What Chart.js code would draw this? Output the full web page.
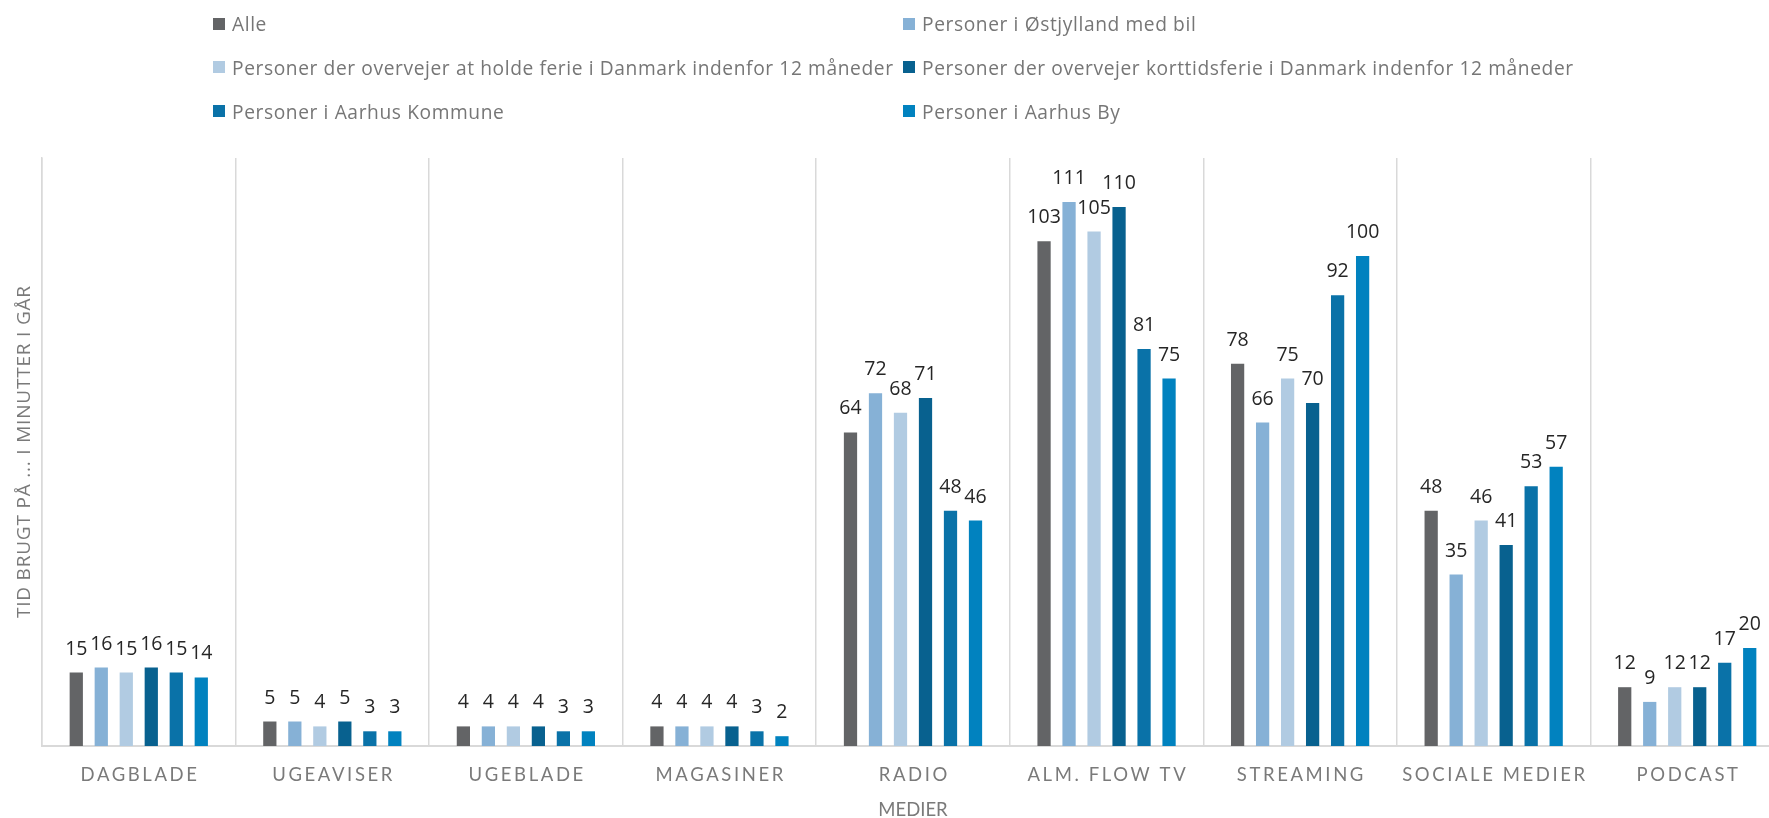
<!DOCTYPE html>
<html lang="da">
<head>
<meta charset="utf-8">
<title>Tid brugt på medier</title>
<script src="https://cdn.jsdelivr.net/npm/chart.js@4.4.1/dist/chart.umd.min.js"></script>
<style>
  html, body { margin: 0; padding: 0; background: #fff; overflow: hidden; }
  #wrap { position: relative; width: 1800px; height: 818px; }
  #legend { position: absolute; left: 0; top: 0; width: 1800px; height: 140px; }
  .item { position: absolute; display: flex; align-items: center; height: 24px;
          font-family: "Open Sans", Lato, sans-serif; font-size: 19.2px; letter-spacing: 0.6px;
          color: #767676; white-space: nowrap; }
  .item i { display: inline-block; width: 12px; height: 12px; margin-right: 7px; }
</style>
</head>
<body>
<div id="wrap">
  <canvas id="chart"></canvas>
  <div id="legend"></div>
</div>
<script>
// Categories on the x axis
const categories = ['DAGBLADE', 'UGEAVISER', 'UGEBLADE', 'MAGASINER', 'RADIO',
                    'ALM. FLOW TV', 'STREAMING', 'SOCIALE MEDIER', 'PODCAST'];

// Minutes spent yesterday, one array per audience group
const alle          = [15, 5, 4, 4, 64, 103, 78, 48, 12];
const oestjylland   = [16, 5, 4, 4, 72, 111, 66, 35, 9];
const ferie         = [15, 4, 4, 4, 68, 105, 75, 46, 12];
const korttidsferie = [16, 5, 4, 4, 71, 110, 70, 41, 12];
const aarhusKommune = [15, 3, 3, 3, 48, 81, 92, 53, 17];
const aarhusBy      = [14, 3, 3, 2, 46, 75, 100, 57, 20];

const seriesNames = [
  'Alle',
  'Personer i Østjylland med bil',
  'Personer der overvejer at holde ferie i Danmark indenfor 12 måneder',
  'Personer der overvejer korttidsferie i Danmark indenfor 12 måneder',
  'Personer i Aarhus Kommune',
  'Personer i Aarhus By'
];
const seriesValues = [alle, oestjylland, ferie, korttidsferie, aarhusKommune, aarhusBy];
const seriesColors = ['#636466', '#86B1D6', '#B1CBE2', '#08618F', '#0A72A8', '#0182BF'];

const yTitle = 'TID BRUGT PÅ ... I MINUTTER I GÅR';
const xTitle = 'MEDIER';

const GRID = '#d9d9d9';
const FONT = 'Lato, "Open Sans", sans-serif';
const LABEL_FONT = '"Open Sans", Lato, sans-serif';

// Value labels above each bar
const valueLabels = {
  id: 'valueLabels',
  afterDatasetsDraw(chart) {
    const ctx = chart.ctx;
    ctx.save();
    ctx.font = '19.5px ' + LABEL_FONT;
    ctx.fillStyle = '#262626';
    ctx.textAlign = 'center';
    ctx.textBaseline = 'alphabetic';
    chart.data.datasets.forEach((ds, i) => {
      chart.getDatasetMeta(i).data.forEach((bar, j) => {
        ctx.fillText(String(ds.data[j]), bar.x, bar.y - 18);
      });
    });
    ctx.restore();
  }
};

// Wraps a scale draw method so its text is drawn with extra letter spacing
function withSpacing(scale, method, spacing, dx, dy) {
  const orig = scale[method];
  scale[method] = function (...args) {
    const c = this.ctx;
    c.save();
    c.letterSpacing = spacing + 'px';
    c.translate(dx, dy);
    orig.apply(this, args);
    c.restore();
  };
}

const TICK_SPACING = 2.6;
const Y_TITLE_SPACING = 0.8;
const spacedText = {
  id: 'spacedText',
  afterUpdate(chart) {
    const { x, y } = chart.scales;
    if (x && !x._spacedPatched) {
      withSpacing(x, 'drawLabels', TICK_SPACING, TICK_SPACING / 2, 0);
      x._spacedPatched = true;
    }
    if (y && !y._spacedPatched) {
      // rotated title: trailing spacing runs along the vertical direction
      withSpacing(y, 'drawTitle', Y_TITLE_SPACING, 0, -Y_TITLE_SPACING / 2);
      y._spacedPatched = true;
    }
  }
};

const chart = new Chart(document.getElementById('chart'), {
  type: 'bar',
  data: {
    labels: categories,
    datasets: seriesNames.map((name, i) => ({
      label: name,
      data: seriesValues[i],
      backgroundColor: seriesColors[i],
      borderWidth: 0,
      categoryPercentage: 0.775,
      barPercentage: 0.53
    }))
  },
  options: {
    responsive: true,
    maintainAspectRatio: false,
    animation: false,
    events: [],
    layout: { padding: { top: 158, right: 16, left: 0, bottom: 0 } },
    plugins: {
      legend: { display: false },
      tooltip: { enabled: false }
    },
    scales: {
      x: {
        offset: true,
        grid: { display: true, offset: true, color: GRID, lineWidth: 1.5, drawTicks: false },
        border: { display: true, color: GRID, width: 2 },
        ticks: {
          autoSkip: false, maxRotation: 0, minRotation: 0, padding: 18,
          color: '#7a7a7a', font: { family: FONT, size: 18.5 }
        },
        title: {
          display: true, text: xTitle, color: '#7a7a7a',
          font: { family: FONT, size: 18.5 }, padding: { top: 0, bottom: -3 }
        },
        afterFit(s) { s.height = 72; }
      },
      y: {
        min: 0, max: 120,
        ticks: { display: false },
        grid: { display: false, drawTicks: false },
        border: { display: true, color: GRID, width: 1.5 },
        title: {
          display: true, text: yTitle, color: '#7a7a7a',
          font: { family: LABEL_FONT, size: 19 }, padding: { top: 13, bottom: 0 }
        },
        afterFit(s) { s.width = 42; }
      }
    }
  },
  plugins: [valueLabels, spacedText]
});

// Two-column legend built from the chart's datasets
const legendEl = document.getElementById('legend');
const colX = [213, 903];
const rowY = [23.5, 67, 111];
chart.data.datasets.forEach((ds, i) => {
  const el = document.createElement('div');
  el.className = 'item';
  el.style.left = colX[i % 2] + 'px';
  el.style.top = (rowY[Math.floor(i / 2)] - 12) + 'px';
  const sw = document.createElement('i');
  sw.style.background = ds.backgroundColor;
  el.appendChild(sw);
  el.appendChild(document.createTextNode(ds.label));
  legendEl.appendChild(el);
});
</script>
</body>
</html>
